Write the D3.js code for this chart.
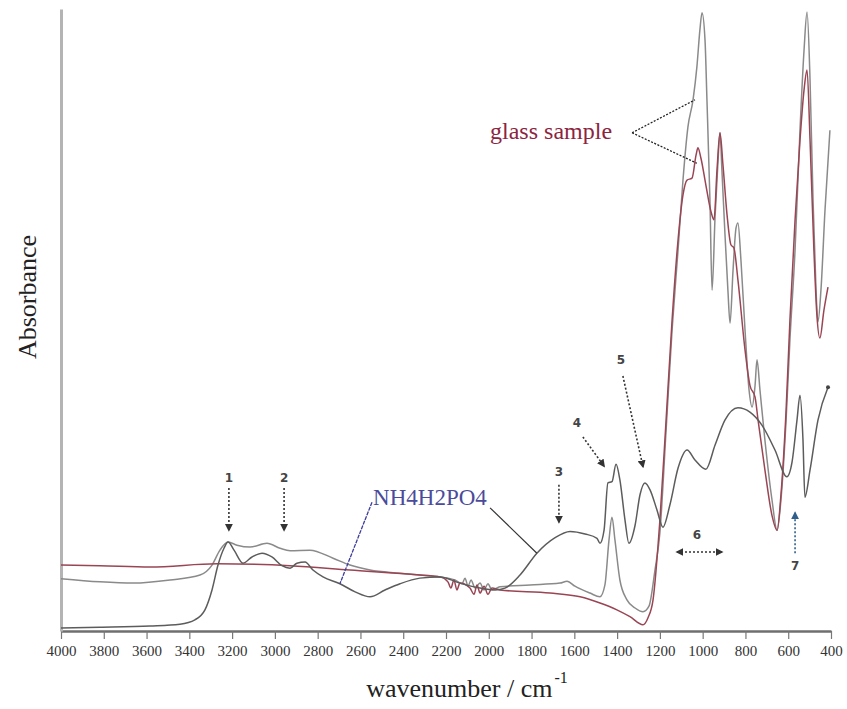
<!DOCTYPE html>
<html>
<head>
<meta charset="utf-8">
<script src="https://cdn.jsdelivr.net/npm/d3@7"></script>
<style>
  body { margin: 0; background: #fff; }
  svg { display: block; }
</style>
</head>
<body>
<script>
// wavenumber ticks
const tickLabels = [4000, 3800, 3600, 3400, 3200, 3000, 2800, 2600, 2400, 2200, 2000, 1800, 1600, 1400, 1200, 1000, 800, 600, 400];

// NH4H2PO4 spectrum
const nh4Wn = [4000, 3818, 3584, 3444, 3374, 3327, 3294, 3266, 3238, 3219, 3191, 3149, 3107, 3060, 3014, 2967, 2929, 2897, 2859, 2822, 2775, 2696, 2625, 2555, 2485, 2415, 2322, 2228, 2135, 2041, 1971, 1924, 1854, 1775, 1690, 1620, 1550, 1494, 1480, 1461, 1443, 1424, 1405, 1387, 1363, 1345, 1316, 1293, 1270, 1246, 1214, 1186, 1153, 1115, 1073, 1036, 985, 942, 896, 835, 779, 723, 662, 606, 582, 559, 545, 531, 522, 498, 461, 414];
const nh4Abs = [0.005, 0.006, 0.008, 0.011, 0.018, 0.034, 0.066, 0.106, 0.133, 0.143, 0.130, 0.109, 0.119, 0.125, 0.119, 0.105, 0.101, 0.109, 0.111, 0.098, 0.087, 0.076, 0.063, 0.055, 0.066, 0.076, 0.085, 0.087, 0.077, 0.069, 0.066, 0.069, 0.090, 0.125, 0.150, 0.160, 0.156, 0.149, 0.141, 0.162, 0.238, 0.240, 0.268, 0.243, 0.178, 0.141, 0.170, 0.219, 0.238, 0.227, 0.195, 0.167, 0.203, 0.262, 0.291, 0.275, 0.260, 0.299, 0.339, 0.359, 0.352, 0.331, 0.291, 0.248, 0.272, 0.339, 0.379, 0.307, 0.215, 0.259, 0.339, 0.392];

// glass sample (grey trace)
const glassAWn = [4000, 3818, 3663, 3490, 3350, 3294, 3257, 3219, 3177, 3116, 3037, 2976, 2929, 2836, 2728, 2649, 2555, 2415, 2322, 2228, 2158, 2125, 2111, 2097, 2083, 2064, 2041, 2022, 2004, 1985, 1948, 1807, 1667, 1634, 1597, 1527, 1480, 1457, 1438, 1424, 1410, 1387, 1354, 1316, 1279, 1251, 1223, 1200, 1171, 1143, 1115, 1092, 1069, 1045, 1027, 1013, 1003, 989, 980, 966, 956, 942, 928, 919, 910, 896, 882, 872, 858, 844, 835, 821, 802, 783, 769, 755, 746, 732, 709, 676, 652, 634, 610, 592, 568, 545, 526, 512, 498, 484, 470, 461, 447, 428, 405];
const glassAAbs = [0.084, 0.079, 0.077, 0.082, 0.090, 0.106, 0.130, 0.143, 0.138, 0.135, 0.141, 0.133, 0.129, 0.130, 0.117, 0.106, 0.098, 0.093, 0.090, 0.087, 0.082, 0.076, 0.085, 0.072, 0.082, 0.069, 0.077, 0.066, 0.076, 0.066, 0.071, 0.074, 0.077, 0.080, 0.072, 0.061, 0.055, 0.074, 0.146, 0.183, 0.146, 0.082, 0.050, 0.037, 0.031, 0.040, 0.098, 0.158, 0.323, 0.484, 0.613, 0.725, 0.810, 0.854, 0.907, 0.966, 0.994, 0.950, 0.854, 0.693, 0.548, 0.666, 0.757, 0.801, 0.741, 0.640, 0.548, 0.495, 0.580, 0.648, 0.656, 0.596, 0.484, 0.387, 0.360, 0.395, 0.436, 0.387, 0.307, 0.211, 0.162, 0.211, 0.339, 0.468, 0.613, 0.805, 0.934, 0.995, 0.886, 0.693, 0.548, 0.497, 0.548, 0.677, 0.805];

// glass sample (red trace)
const glassBWn = [4000, 3818, 3584, 3271, 2929, 2649, 2322, 2228, 2191, 2177, 2163, 2149, 2135, 2088, 2069, 2055, 2041, 2022, 2004, 1985, 1948, 1714, 1573, 1480, 1401, 1340, 1279, 1256, 1232, 1200, 1171, 1143, 1115, 1092, 1073, 1050, 1031, 1022, 1008, 985, 961, 947, 933, 919, 905, 886, 868, 854, 835, 802, 779, 755, 741, 709, 676, 652, 634, 610, 592, 568, 545, 526, 512, 498, 480, 466, 452, 433, 414];
const glassBAbs = [0.106, 0.105, 0.103, 0.108, 0.105, 0.098, 0.090, 0.087, 0.079, 0.069, 0.082, 0.066, 0.077, 0.069, 0.059, 0.074, 0.061, 0.072, 0.059, 0.069, 0.066, 0.061, 0.055, 0.045, 0.034, 0.023, 0.010, 0.021, 0.050, 0.178, 0.339, 0.500, 0.629, 0.701, 0.725, 0.728, 0.765, 0.777, 0.760, 0.717, 0.674, 0.661, 0.741, 0.801, 0.749, 0.669, 0.621, 0.616, 0.564, 0.452, 0.395, 0.376, 0.339, 0.259, 0.186, 0.162, 0.219, 0.355, 0.500, 0.661, 0.789, 0.870, 0.902, 0.789, 0.613, 0.508, 0.471, 0.516, 0.553];

// numbered band markers: label, wavenumber, label height, arrow start/end
const bandNames = ["1", "2", "3", "4", "5", "6", "7"];
const bandLabelWn = [3215, 2957, 1672, 1588, 1382, 1027, 568];
const bandLabelAbs = [0.246, 0.246, 0.256, 0.335, 0.436, 0.154, 0.105];
const bandFromWn = [3215, 2957, 1672, 1560, 1373, 1120, 568];
const bandFromAbs = [0.230, 0.230, 0.235, 0.312, 0.410, 0.127, 0.125];
const bandToWn = [3215, 2957, 1672, 1461, 1279, 910, 568];
const bandToAbs = [0.162, 0.162, 0.175, 0.265, 0.264, 0.127, 0.190];

const width = 847;
const height = 709;

const x = d3.scaleLinear().domain([4000, 400]).range([61, 831]);
const y = d3.scaleLinear().domain([0, 1]).range([631, 9]);

const svg = d3.select("body").append("svg")
  .attr("width", width)
  .attr("height", height);

// axes
svg.append("g")
  .attr("transform", `translate(0,${y(0)})`)
  .call(d3.axisBottom(x).tickValues(tickLabels).tickSize(8).tickPadding(6).tickSizeOuter(0).tickFormat(d3.format("d")))
  .attr("font-family", "'Liberation Serif', serif")
  .attr("font-size", 15)
  .call(g => g.select(".domain").attr("stroke", "#6f6f6f").attr("stroke-width", 2.5))
  .call(g => g.selectAll(".tick line").attr("stroke", "#777").attr("stroke-width", 1.2))
  .call(g => g.selectAll(".tick text")
    .style("font-family", "'Liberation Serif', 'Times New Roman', serif")
    .style("font-size", "15px")
    .style("fill", "#333"));

svg.append("g")
  .attr("transform", `translate(${x(4000)},0)`)
  .call(d3.axisLeft(y).tickValues([]).tickSizeOuter(0))
  .call(g => g.select(".domain").attr("stroke", "#b4b4b4").attr("stroke-width", 3));

svg.append("text")
  .attr("transform", `translate(27,${(y(0) + y(1)) / 2 - 23}) rotate(-90)`)
  .attr("text-anchor", "middle")
  .attr("dy", "0.35em")
  .attr("font-family", "'Liberation Serif', serif")
  .attr("font-size", 26)
  .attr("fill", "#222")
  .text("Absorbance");

const xTitle = svg.append("text")
  .attr("x", 467)
  .attr("y", 697)
  .attr("text-anchor", "middle")
  .attr("font-family", "'Liberation Serif', serif")
  .attr("font-size", 26)
  .attr("fill", "#222");
xTitle.append("tspan").text("wavenumber / cm");
xTitle.append("tspan").attr("dy", -14).attr("dx", 2).attr("font-size", 16).text("-1");

// spectra
const line = d3.line()
  .x(d => x(d[0]))
  .y(d => y(d[1]))
  .curve(d3.curveMonotoneX);

const series = [
  { name: "glass grey", wn: glassAWn, abs: glassAAbs, color: "#8a8a8a" },
  { name: "glass red", wn: glassBWn, abs: glassBAbs, color: "#9a4553" },
  { name: "NH4H2PO4", wn: nh4Wn, abs: nh4Abs, color: "#5c5c5c" }
];

svg.append("g")
  .selectAll("path")
  .data(series)
  .enter().append("path")
  .attr("fill", "none")
  .attr("stroke", d => d.color)
  .attr("stroke-width", 1.5)
  .attr("stroke-linejoin", "round")
  .attr("d", d => line(d.wn.map((w, i) => [w, d.abs[i]])));

svg.append("circle")
  .attr("cx", x(nh4Wn[nh4Wn.length - 1]))
  .attr("cy", y(nh4Abs[nh4Abs.length - 1]))
  .attr("r", 2)
  .attr("fill", "#444");

// band markers
const defs = svg.append("defs");
[["head-dark", "#333"], ["head-blue", "#2f5f8a"]].forEach(([id, c]) => {
  defs.append("marker")
    .attr("id", id)
    .attr("viewBox", "0 0 10 10")
    .attr("refX", 8).attr("refY", 5)
    .attr("markerWidth", 5).attr("markerHeight", 5)
    .attr("orient", "auto-start-reverse")
    .append("path")
    .attr("d", "M0,0L10,5L0,10z")
    .attr("fill", c);
});

const bands = svg.append("g");
bandNames.forEach((name, i) => {
  const blue = name === "7";
  const col = blue ? "#2f5f8a" : "#333";
  bands.append("line")
    .attr("x1", x(bandFromWn[i])).attr("y1", y(bandFromAbs[i]))
    .attr("x2", x(bandToWn[i])).attr("y2", y(bandToAbs[i]))
    .attr("stroke", col)
    .attr("stroke-width", 1.6)
    .attr("stroke-dasharray", "2,2")
    .attr("marker-end", `url(#${blue ? "head-blue" : "head-dark"})`)
    .attr("marker-start", name === "6" ? "url(#head-dark)" : null);
  bands.append("text")
    .attr("x", x(bandLabelWn[i]))
    .attr("y", y(bandLabelAbs[i]))
    .attr("dy", "0.35em")
    .attr("text-anchor", "middle")
    .attr("font-family", "'DejaVu Sans', sans-serif")
    .attr("font-weight", "bold")
    .attr("font-size", 12)
    .attr("fill", "#444")
    .text(name);
});

// labels for the traces
svg.append("text")
  .attr("x", x(2541))
  .attr("y", y(0.215))
  .attr("dy", "0.35em")
  .attr("font-family", "'Liberation Serif', serif")
  .attr("font-size", 23)
  .attr("fill", "#4b4b9b")
  .text("NH4H2PO4");

svg.append("line")
  .attr("x1", x(2546)).attr("y1", y(0.207))
  .attr("x2", x(2696)).attr("y2", y(0.076))
  .attr("stroke", "#3c3c9a")
  .attr("stroke-width", 1.3)
  .attr("stroke-dasharray", "4,1");

svg.append("line")
  .attr("x1", x(1994)).attr("y1", y(0.198))
  .attr("x2", x(1775)).attr("y2", y(0.125))
  .attr("stroke", "#333")
  .attr("stroke-width", 1.2);

svg.append("text")
  .attr("x", x(1994))
  .attr("y", y(0.805))
  .attr("dy", "0.35em")
  .attr("font-family", "'Liberation Serif', serif")
  .attr("font-size", 24)
  .attr("fill", "#8b2440")
  .text("glass sample");

[[1036, 0.854], [1027, 0.752]].forEach(([w, a]) => {
  svg.append("line")
    .attr("x1", x(1330)).attr("y1", y(0.801))
    .attr("x2", x(w)).attr("y2", y(a))
    .attr("stroke", "#222")
    .attr("stroke-width", 1.3)
    .attr("stroke-dasharray", "2,1.5");
});
</script>
</body>
</html>
